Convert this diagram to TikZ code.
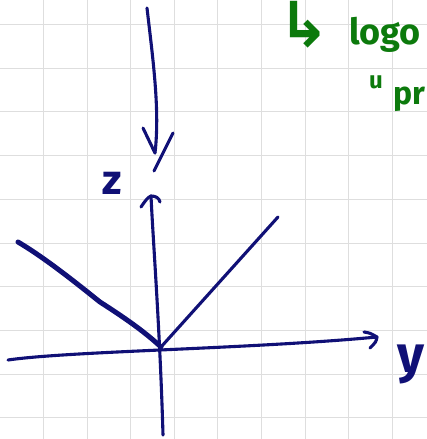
\documentclass[tikz,border=0pt]{standalone}
\usepackage{fontspec}
\setmainfont{Fira Sans}
\newfontfamily\symfont{DejaVu Sans}
\usepackage{xcolor}
\usetikzlibrary{arrows.meta}
\definecolor{ink}{RGB}{16,16,118}
\definecolor{pen}{RGB}{12,122,12}

\begin{document}
\begin{tikzpicture}[x=1pt,y=-1pt,line cap=round,line join=round,
  gridline/.style={black!13,line width=1pt},
  axis/.style={ink,line width=3.1pt},
  label/.style={ink,inner sep=0pt,font=\fontsize{#1}{#1}\selectfont\bfseries},
  note/.style={pen,inner sep=0pt,anchor=base west,font=\fontsize{#1}{#1}\selectfont\bfseries}]
  \useasboundingbox (0,0) rectangle (427,439);
  \clip (0,0) rectangle (427,439);
  % grid paper
  \fill[white] (0,0) rectangle (427,439);
  \foreach \k in {0,...,8}
    \draw[gridline] ({43.5+43.6*\k},0) -- ({43.5+43.6*\k},439);
  \foreach \k in {0,...,9}
    \draw[gridline] (0,{24.5+43.7*\k}) -- (427,{24.5+43.7*\k});
  % key points
  \coordinate (O) at (161,347);
  \coordinate (zbot) at (163,435);
  \coordinate (ztop) at (151,196);
  \coordinate (ybeg) at (8,360);
  \coordinate (yend) at (377,337);
  \coordinate (diagR) at (278,217);
  \coordinate (diagL) at (18,242);
  \coordinate (ptop) at (147,8);
  \coordinate (ptip) at (155,153);
  % z axis
  \draw[axis] (zbot) .. controls (160,330) and (153,240) .. (ztop);
  \draw[axis] (141,207) .. controls (145,201) and (148,197) .. (ztop)
    .. controls (156,196) and (159,198) .. (160,202);
  % y axis
  \draw[axis] (ybeg) .. controls (70,351) and (250,349) .. (yend);
  \draw[axis] (364,332) .. controls (370,333) .. (yend)
    .. controls (376,342) .. (370,348);
  % rays from the origin
  \draw[axis] (O) -- (diagR);
  \draw[ink,line width=5pt] (diagL) .. controls (45,258) and (75,282) .. (100,302)
    .. controls (125,318) and (145,332) .. (O);
  % incoming arrow
  \draw[axis] (ptop) .. controls (153,60) and (160,110) .. (ptip);
  \draw[axis] (143,128) -- (ptip);
  \draw[axis] (173,133) -- (154,171);
  % labels
  \node[label=42] (zlab) at (112,183) {z};
  \node[label=52,anchor=base west] (ylab) at (397,372) {y};
  % notes
  \node[note=62] (arr1) at (278,46) {\symfont ↳};
  \node[note=36] (note1) at (349,44) {logo};
  \node[note=24] (dit) at (369,88) {u};
  \node[note=32] (note2) at (393,104) {pr};
\end{tikzpicture}
\end{document}
